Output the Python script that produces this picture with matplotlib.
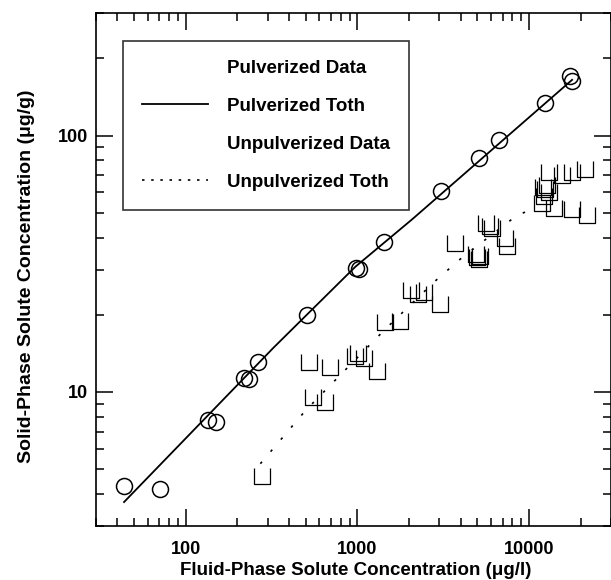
import matplotlib
matplotlib.use("Agg")
import matplotlib.pyplot as plt
from matplotlib.path import Path
from matplotlib.lines import Line2D
from matplotlib.ticker import LogLocator, FixedFormatter, FixedLocator, NullFormatter

plt.rcParams['font.family'] = ['Liberation Sans', 'DejaVu Sans']
plt.rcParams['font.weight'] = 'bold'
plt.rcParams['font.size'] = 13

# pulverized data (circles)
pulv_x = [43.7, 70.8, 135, 151, 218, 233, 262, 508, 982, 1018, 1436,
          3070, 5080, 6650, 12440, 17200, 17800]
pulv_y = [4.31, 4.20, 7.80, 7.62, 11.3, 11.2, 13.05, 19.9, 30.5, 30.1, 38.5,
          60.7, 81.8, 95.9, 134, 171, 164]

# pulverized Toth fit
pulv_toth_x = [43.7, 325, 973, 2080, 17800]
pulv_toth_y = [3.72, 14.9, 30.8, 47.1, 165]

# unpulverized data (open squares, top edge lost in the scan)
unp_x = [277, 548, 645, 520, 696, 973, 1010, 1090, 1300, 1455, 1780,
         2050, 2250, 2450, 3040, 3720, 4900, 5000, 5100, 5200,
         5600, 5900, 6100, 7280, 7400,
         12000, 12400, 12800, 13000, 12200, 13000, 15500, 17800, 21300,
         11900, 14000, 17800, 21600]
unp_y = [4.71, 9.59, 9.17, 13.1, 12.5, 13.8, 14.2, 13.6, 12.1, 18.7, 18.9,
         24.9, 24.0, 24.6, 22.0, 38.0, 34.5, 33.5, 33.0, 34.0,
         45.5, 44.5, 43.5, 40.0, 37.1,
         63, 62, 64, 60, 58, 71.8, 70, 71.8, 73.8,
         54.7, 52, 51.5, 49]

# unpulverized Toth fit
unp_toth_x = [272, 498, 1455, 2840, 4060, 8510, 10000]
unp_toth_y = [5.25, 8.46, 17.6, 27.1, 33.4, 48.9, 51]

x_ticks = [100, 1000, 10000]
x_labels = ['100', '1000', '10000']
y_ticks = [10, 100]
y_labels = ['10', '100']

u_marker = Path([(-1, 1), (-1, -1), (1, -1), (1, 1)],
                [Path.MOVETO, Path.LINETO, Path.LINETO, Path.LINETO])

fig = plt.figure(figsize=(6.11, 5.8), dpi=100)
ax = fig.add_axes([96 / 611, 1 - 526 / 580, 515 / 611, 512.7 / 580])

ax.plot(pulv_x, pulv_y, linestyle='none', marker='o', ms=11.5, mfc='none',
        mec='black', mew=1.1)
ax.plot(pulv_toth_x, pulv_toth_y, color='black', lw=1.3)
ax.plot(unp_x, unp_y, linestyle='none', marker=u_marker, ms=11.5, mfc='none',
        mec='black', mew=0.9)
ax.plot(unp_toth_x, unp_toth_y, color='black', lw=1.2, dashes=(1.5, 8))

ax.set_xscale('log')
ax.set_yscale('log')
ax.set_xlim(30, 30000)
ax.set_ylim(3, 300)

ax.xaxis.set_major_locator(FixedLocator(x_ticks))
ax.xaxis.set_major_formatter(FixedFormatter(x_labels))
ax.yaxis.set_major_locator(FixedLocator(y_ticks))
ax.yaxis.set_major_formatter(FixedFormatter(y_labels))
ax.xaxis.set_minor_locator(LogLocator(base=10, subs=range(2, 10)))
ax.yaxis.set_minor_locator(LogLocator(base=10, subs=range(2, 10)))
ax.xaxis.set_minor_formatter(NullFormatter())
ax.yaxis.set_minor_formatter(NullFormatter())

ax.tick_params(which='both', direction='in', top=True, right=True, width=1.1)
ax.tick_params(which='major', length=12, labelsize=13)
ax.tick_params(which='minor', length=6)
ax.tick_params(axis='x', which='major', pad=11)
ax.tick_params(axis='y', which='major', pad=6)
for s in ax.spines.values():
    s.set_linewidth(1.2)

ax.set_xlabel('Fluid-Phase Solute Concentration (μg/l)', labelpad=3,
              fontweight='bold', fontsize=13.5)
ax.set_ylabel('Solid-Phase Solute Concentration (μg/g)', labelpad=16,
              fontweight='bold', fontsize=14)
ax.xaxis.label.set_x(0.505)
ax.yaxis.label.set_y(0.487)

handles = [Line2D([], [], linestyle='none'),
           Line2D([], [], color='black', lw=1.3),
           Line2D([], [], linestyle='none'),
           Line2D([], [], color='black', lw=1.2, dashes=(1.5, 4))]
labels = ['Pulverized Data', 'Pulverized Toth', 'Unpulverized Data',
          'Unpulverized Toth']
leg = ax.legend(handles, labels, loc='upper left',
                bbox_to_anchor=(0.0524, 0.9466), borderaxespad=0,
                fancybox=False, frameon=True, edgecolor='black',
                borderpad=1.0, labelspacing=1.12, handlelength=3.56,
                handletextpad=1.0, prop={'weight': 'bold', 'size': 13.5})
leg.get_frame().set_linewidth(1.2)

fig.savefig('out.png', dpi=100)
